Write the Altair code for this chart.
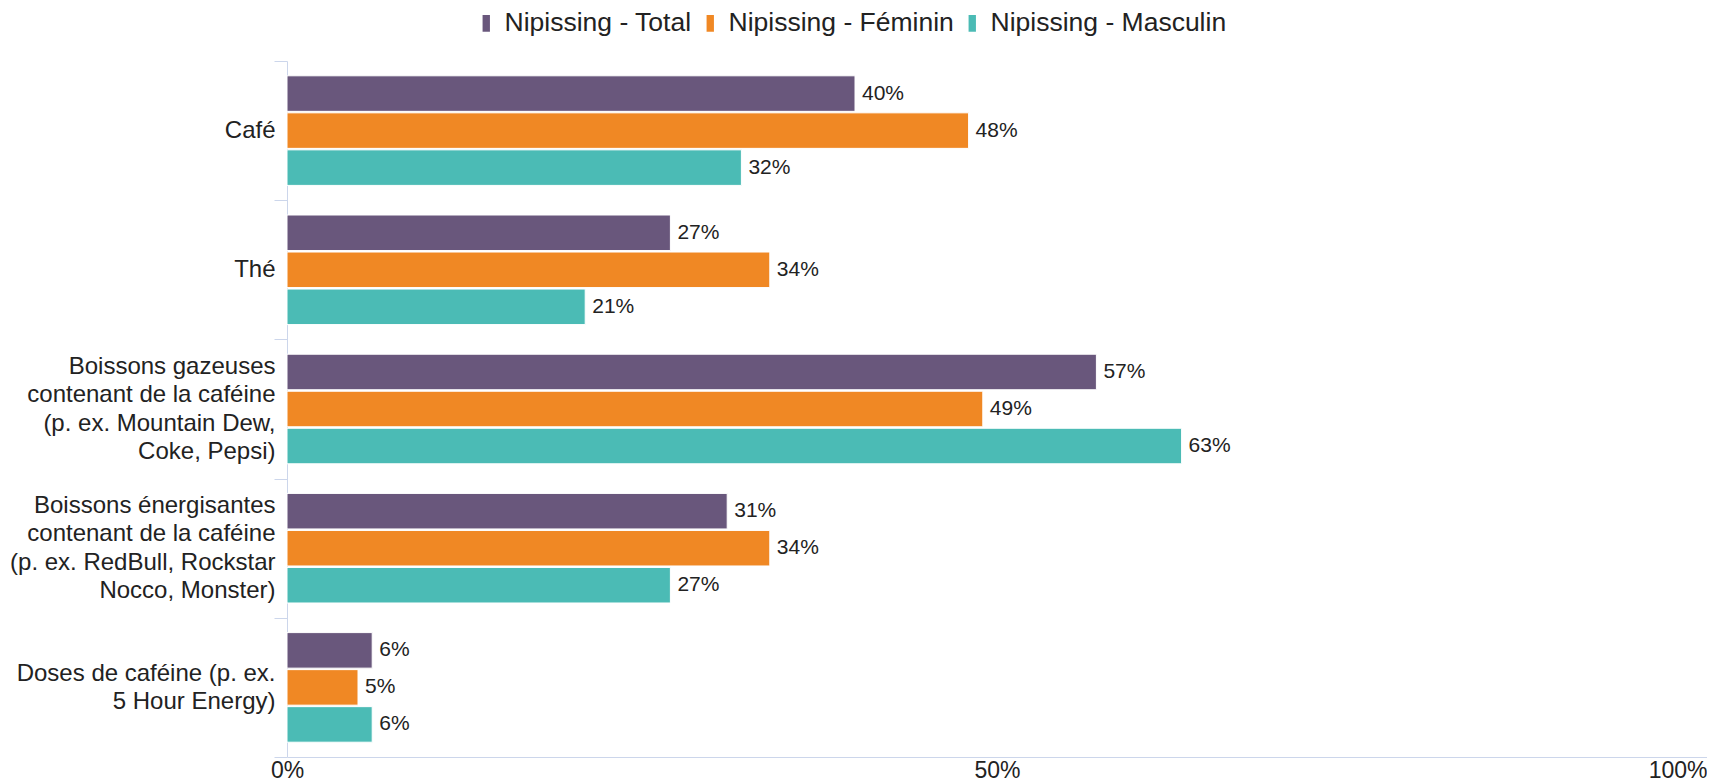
import altair as alt
import pandas as pd

categories = [
    "Café",
    "Thé",
    "Boissons gazeuses\ncontenant de la caféine\n(p. ex. Mountain Dew,\nCoke, Pepsi)",
    "Boissons énergisantes\ncontenant de la caféine\n(p. ex. RedBull, Rockstar\nNocco, Monster)",
    "Doses de caféine (p. ex.\n5 Hour Energy)",
]
series = ["Nipissing - Total", "Nipissing - Féminin", "Nipissing - Masculin"]
total = [40, 27, 57, 31, 6]
feminin = [48, 34, 49, 34, 5]
masculin = [32, 21, 63, 27, 6]
colors = ["#69577c", "#f08824", "#4bbbb5"]
x_ticks = [0, 50, 100]

rows = []
for s, vals in zip(series, [total, feminin, masculin]):
    for c, v in zip(categories, vals):
        rows.append({"cat": c, "series": s, "value": v, "label": f"{v}%"})
df = pd.DataFrame(rows)

FONT = "Liberation Sans"
TXT = "#222222"
AX = "#ccd6eb"
LH = 28.5

y_axis = alt.Axis(
    orient="left",
    title=None,
    labelExpr="split(datum.label, '\\n')",
    labelFontSize=24,
    labelLineHeight=LH,
    labelColor=TXT,
    labelFont=FONT,
    labelLimit=0,
    labelOffset={
        "condition": [
            {"test": "length(split(datum.value, '\\n')) == 4", "value": -1.5 * LH},
            {"test": "length(split(datum.value, '\\n')) == 2", "value": -0.5 * LH},
        ],
        "value": 0,
    },
    tickBand="extent",
    tickSize=13,
    tickColor=AX,
    domainColor=AX,
    labelPadding=-1,
    minExtent=279,
    maxExtent=279,
    grid=False,
)
x_axis = alt.Axis(
    orient="bottom",
    values=x_ticks,
    title=None,
    labelExpr="datum.value + '%'",
    grid=False,
    ticks=False,
    domainColor=AX,
    labelFontSize=23,
    labelFont=FONT,
    labelColor=TXT,
    labelPadding=2,
    labelFlush=False,
    labelAlign={
        "condition": {"test": "datum.value >= 100", "value": "right"},
        "value": "center",
    },
)

y_enc = alt.Y(
    "cat:N",
    sort=categories,
    scale=alt.Scale(paddingInner=0, paddingOuter=0),
    axis=y_axis,
)
yoff_enc = alt.YOffset(
    "series:N", sort=series, scale=alt.Scale(paddingInner=0.04, paddingOuter=0.4)
)
x_enc = alt.X("value:Q", scale=alt.Scale(domain=[0, 100], nice=False), axis=x_axis)

bars = alt.Chart(df).mark_bar(stroke="white", strokeWidth=1).encode(
    y=y_enc,
    yOffset=yoff_enc,
    x=x_enc,
    color=alt.Color(
        "series:N",
        sort=series,
        scale=alt.Scale(domain=series, range=colors),
        legend=alt.Legend(
            orient="none",
            legendX=186,
            legendY=-51,
            direction="horizontal",
            title=None,
            symbolType="M-0.44,-1H0.44V1H-0.44Z",
            symbolSize=280,
            symbolStrokeWidth=0,
            labelFontSize=26.5,
            labelFont=FONT,
            labelColor=TXT,
            labelOffset=5,
            columnPadding=5,
            padding=0,
            labelLimit=0,
        ),
    ),
)

texts = alt.Chart(df).mark_text(
    align="left", baseline="middle", dx=7, fontSize=21, font=FONT, color=TXT
).encode(
    y=alt.Y("cat:N", sort=categories, axis=y_axis),
    yOffset=alt.YOffset("series:N", sort=series),
    x=alt.X("value:Q", axis=x_axis),
    text="label:N",
)

chart = (
    alt.layer(bars, texts)
    .resolve_axis(x="shared", y="shared")
    .properties(
        width=1420,
        height=696,
        padding={"left": 0, "top": 2, "right": 0, "bottom": 0},
    )
    .configure(font=FONT)
    .configure_view(stroke=None, strokeWidth=0)
    .configure_axis(grid=False)
)

chart.save("out.html", embed_options={"renderer": "svg", "actions": False})
